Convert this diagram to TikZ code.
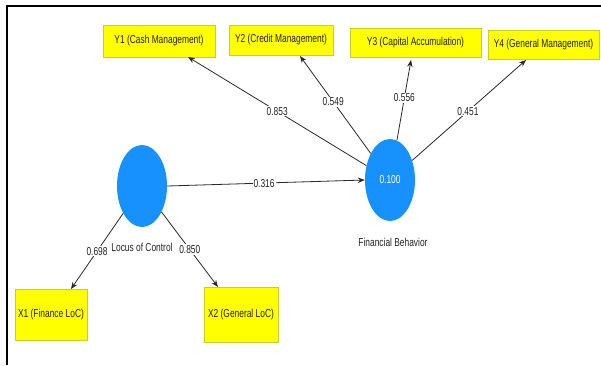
\documentclass[tikz,border=0pt]{standalone}
\usepackage{fontspec}
\setmainfont[FakeStretch=0.73]{Liberation Sans}
\usetikzlibrary{shapes.geometric,arrows.meta}
\definecolor{boxyellow}{RGB}{255,255,0}
\definecolor{boxedge}{RGB}{205,205,40}
\definecolor{lvblue}{RGB}{22,145,254}
\definecolor{linegray}{RGB}{40,40,40}
\definecolor{txtgray}{RGB}{35,35,35}
\tikzset{
  indbox/.style={draw=boxedge, line width=0.8pt, fill=boxyellow, inner sep=0pt, text=txtgray, font=\fontsize{11.5}{13}\selectfont},
  latent/.style={ellipse, fill=lvblue, draw=none, minimum width=50pt, minimum height=82pt, inner sep=0pt, text=white, font=\fontsize{11.5}{13}\selectfont},
  lvname/.style={text=txtgray, font=\fontsize{11.5}{13}\selectfont, inner sep=1pt},
  conn/.style={draw=linegray, line width=0.8pt, -{Stealth[length=7pt,width=5.5pt]}},
  coef/.style={fill=white, inner sep=1pt, text=txtgray, font=\fontsize{11.5}{13}\selectfont},
  frameline/.style={line width=2pt, black}
}
\begin{document}
\begin{tikzpicture}[x=1pt,y=-1pt]
\useasboundingbox (0,0) rectangle (601,365);
% frame
\coordinate (f1) at (601,6);
\coordinate (f2) at (7,6);
\coordinate (f3) at (7,365);
\draw[frameline] (f1) -- (f2) -- (f3);
% indicator boxes
\node[indbox, minimum width=112pt, minimum height=32pt] (Y1) at (159,41) {Y1 (Cash Management)};
\node[indbox, minimum width=104pt, minimum height=30pt] (Y2) at (281,40) {Y2 (Credit Management)};
\node[indbox, minimum width=131pt, minimum height=29pt] (Y3) at (415.5,42.5) {Y3 (Capital Accumulation)};
\node[indbox, minimum width=111pt, minimum height=29pt] (Y4) at (543.5,44.5) {Y4 (General Management)};
\node[indbox, minimum width=72pt, minimum height=51pt] (X1) at (51,314.5) {X1 (Finance LoC)};
\node[indbox, minimum width=74pt, minimum height=55pt] (X2) at (241,314.5) {X2 (General LoC)};
% latent variables
\node[latent] (LC) at (142,186) {};
\node[latent] (FB) at (390,180) {0.100};
\node[lvname] (LCn) at (142,247) {Locus of Control};
\node[lvname] (FBn) at (393,242) {Financial Behavior};
% arrow end points
\coordinate (tY1) at (188,57);
\coordinate (tY2) at (300,56);
\coordinate (tY3) at (411,60);
\coordinate (tY4) at (526,60);
\coordinate (tX1) at (71,289);
\coordinate (tX2) at (218,287);
% connectors
\draw[conn] (FB) -- node[coef, pos=0.5] {0.853} (tY1);
\draw[conn] (FB) -- node[coef, pos=0.53] {0.549} (tY2);
\draw[conn] (FB) -- node[coef, pos=0.53] {0.556} (tY3);
\draw[conn] (FB) -- node[coef, pos=0.49] {0.451} (tY4);
\draw[conn] (LC.east) -- node[coef, pos=0.49] {0.316} (FB.west);
\draw[conn] (LC) -- node[coef, pos=0.5] {0.698} (tX1);
\draw[conn] (LC) -- node[coef, pos=0.5] {0.850} (tX2);
\end{tikzpicture}
\end{document}
